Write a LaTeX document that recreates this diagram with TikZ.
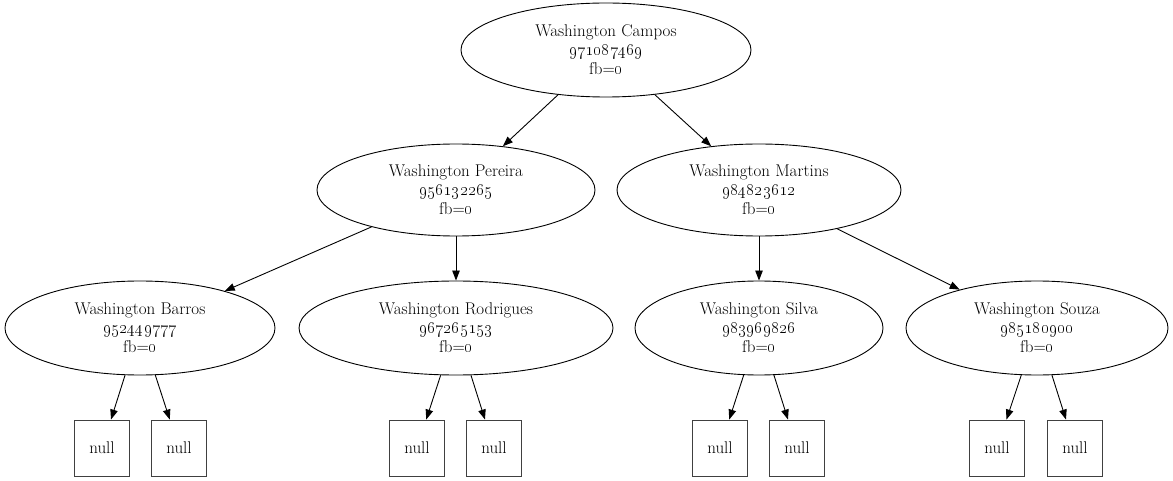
\documentclass[tikz,border=0pt]{standalone}
\usepackage{tikz}
\usetikzlibrary{shapes.geometric, arrows.meta}

\newcommand{\pessoa}[2]{#1\\\oldstylenums{#2}\\fb=\oldstylenums{0}}

\begin{document}
\begin{tikzpicture}[x=1pt, y=-1pt,
		reg/.style={draw, ellipse, inner sep=0pt, line width=0.9pt, align=center, font=\fontsize{17}{19}\selectfont},
		nil/.style={draw=black!75, rectangle, minimum width=55pt, minimum height=56pt, inner sep=0pt, line width=0.9pt, font=\fontsize{17}{19}\selectfont},
		arrow/.style={-{Triangle[length=10pt, width=7.5pt]}, line width=0.9pt}
	]
	\useasboundingbox (0,0) rectangle (1173,481);
	\node[reg, minimum width=290pt, minimum height=94pt] (root) at (606,50) {\pessoa{Washington Campos}{971087469}};
	\node[reg, minimum width=278pt, minimum height=92pt] (pe) at (456,190) {\pessoa{Washington Pereira}{956132265}};
	\node[reg, minimum width=284pt, minimum height=92pt] (ma) at (759,190) {\pessoa{Washington Martins}{984823612}};
	\node[reg, minimum width=270pt, minimum height=94pt] (ba) at (140,328) {\pessoa{Washington Barros}{952449777}};
	\node[reg, minimum width=314pt, minimum height=94pt] (ro) at (456,328) {\pessoa{Washington Rodrigues}{967265153}};
	\node[reg, minimum width=248pt, minimum height=94pt] (si) at (759,328) {\pessoa{Washington Silva}{983969826}};
	\node[reg, minimum width=262pt, minimum height=94pt] (so) at (1037,328) {\pessoa{Washington Souza}{985180900}};
	\draw[arrow] (root) -- (pe);
	\draw[arrow] (root) -- (ma);
	\draw[arrow] (pe) -- (ba);
	\draw[arrow] (pe) -- (ro);
	\draw[arrow] (ma) -- (si);
	\draw[arrow] (ma) -- (so);
	% null leaves
	\foreach \x/\p [count=\i] in {102/ba, 179/ba, 417/ro, 494/ro, 720/si, 797/si, 997/so, 1075/so} {
		\node[nil] (n\i) at (\x,448) {null};
		\draw[arrow] (\p) -- (n\i);
	}
\end{tikzpicture}
\end{document}
